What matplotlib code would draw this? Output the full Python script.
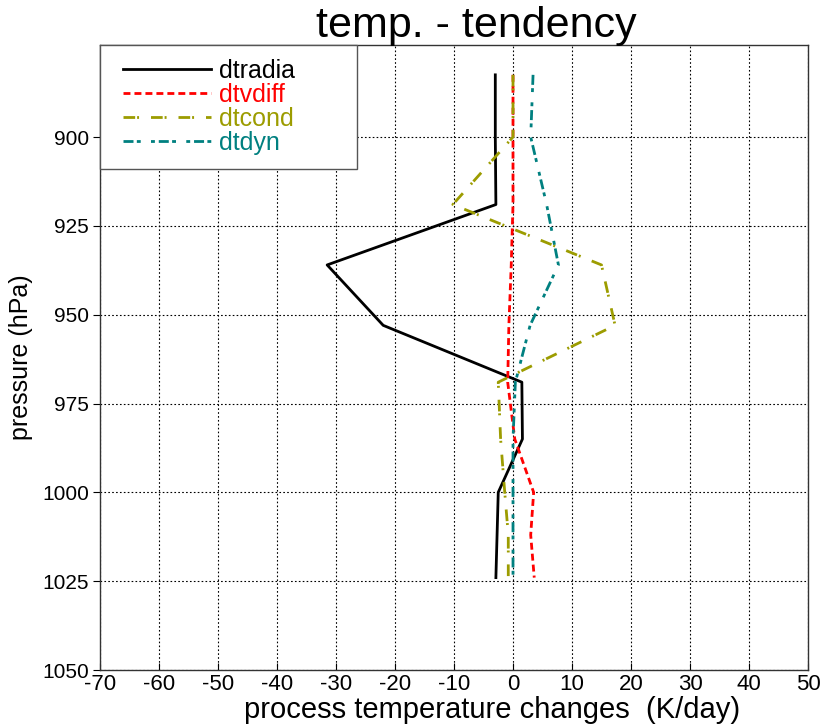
import matplotlib
matplotlib.use("Agg")
import matplotlib.pyplot as plt
from matplotlib.lines import Line2D
from matplotlib.legend_handler import HandlerLine2D

plt.rcParams['font.family'] = ['Liberation Sans', 'DejaVu Sans']
plt.rcParams['axes.unicode_minus'] = False

# pressure levels (hPa)
pressure = [882.5, 900, 919, 936, 953, 969, 985, 1000, 1012, 1024]
# tendencies (K/day)
dtradia = [-3.0, -3.0, -2.9, -31.5, -22.0, 1.5, 1.6, -2.5, -2.7, -2.9]
dtvdiff = [0.0, 0.0, 0.0, -0.3, -0.7, -0.9, 0.3, 3.5, 3.0, 3.6]
dtcond = [0.0, 0.0, -10.2, 15.0, 17.3, -2.5, -2.1, -1.4, -0.8, -0.8]
dtdyn = [3.4, 3.0, 5.7, 7.7, 2.9, 0.4, 0.0, 0.0, 0.0, 0.0]

series_names = ['dtradia', 'dtvdiff', 'dtcond', 'dtdyn']
xticks = list(range(-70, 51, 10))
yticks = [900, 925, 950, 975, 1000, 1025, 1050]

fig = plt.figure(figsize=(8.26, 7.26), dpi=100)
ax = fig.add_axes([100/826, 1-670/726, 708/826, 625/726])

lw = 2.0
ax.plot(dtradia, pressure, color='black', lw=lw, ls='-', label=series_names[0])
ax.plot(dtvdiff, pressure, color='#ff0000', lw=lw, ls=(0, (2.5, 1.45)), label=series_names[1])
ax.plot(dtcond, pressure, color='#9c9c00', lw=lw, ls=(0, (4.2, 0.7, 0.7, 4.3)), label=series_names[2])
ax.plot(dtdyn, pressure, color='#008080', lw=lw, ls=(0, (3.6, 1.2, 1.4, 3.7, 1.4, 1.4)), label=series_names[3])

ax.set_xlim(-70, 50)
ax.set_ylim(1050, 874.1)
ax.set_xticks(xticks)
ax.set_yticks(yticks)
ax.grid(True, color='black', ls=(0, (1.5, 2)), lw=0.8)
ax.tick_params(axis='x', direction='in', length=5, labelsize=16, pad=3)
ax.tick_params(axis='y', direction='out', length=5, labelsize=15, pad=3)
for s in ax.spines.values():
    s.set_linewidth(1.0)
    s.set_color('#333333')

ax.set_xlabel('process temperature changes  (K/day)', fontsize=21)
ax.xaxis.set_label_coords(0.554, -0.042)
ax.set_ylabel('pressure (hPa)', fontsize=18)
ax.yaxis.set_label_coords(-0.095, 0.5)
fig.text(476/826, 1-26/726, 'temp. - tendency', fontsize=31, ha='center', va='center')

leg = ax.legend(loc='upper left', bbox_to_anchor=(0, 1-120/625, 257/708, 120/625),
                mode='expand', borderaxespad=0, fontsize=18, handlelength=3.9,
                handletextpad=0.32, labelspacing=0.0, borderpad=0.55,
                fancybox=False, framealpha=1, edgecolor='#555555',
                handler_map={Line2D: HandlerLine2D(xpad=0.36)})
leg.get_frame().set_linewidth(1.0)
for txt, c in zip(leg.get_texts(), ['black', '#ff0000', '#9c9c00', '#008080']):
    txt.set_color(c)

fig.savefig('out.png', dpi=100)
